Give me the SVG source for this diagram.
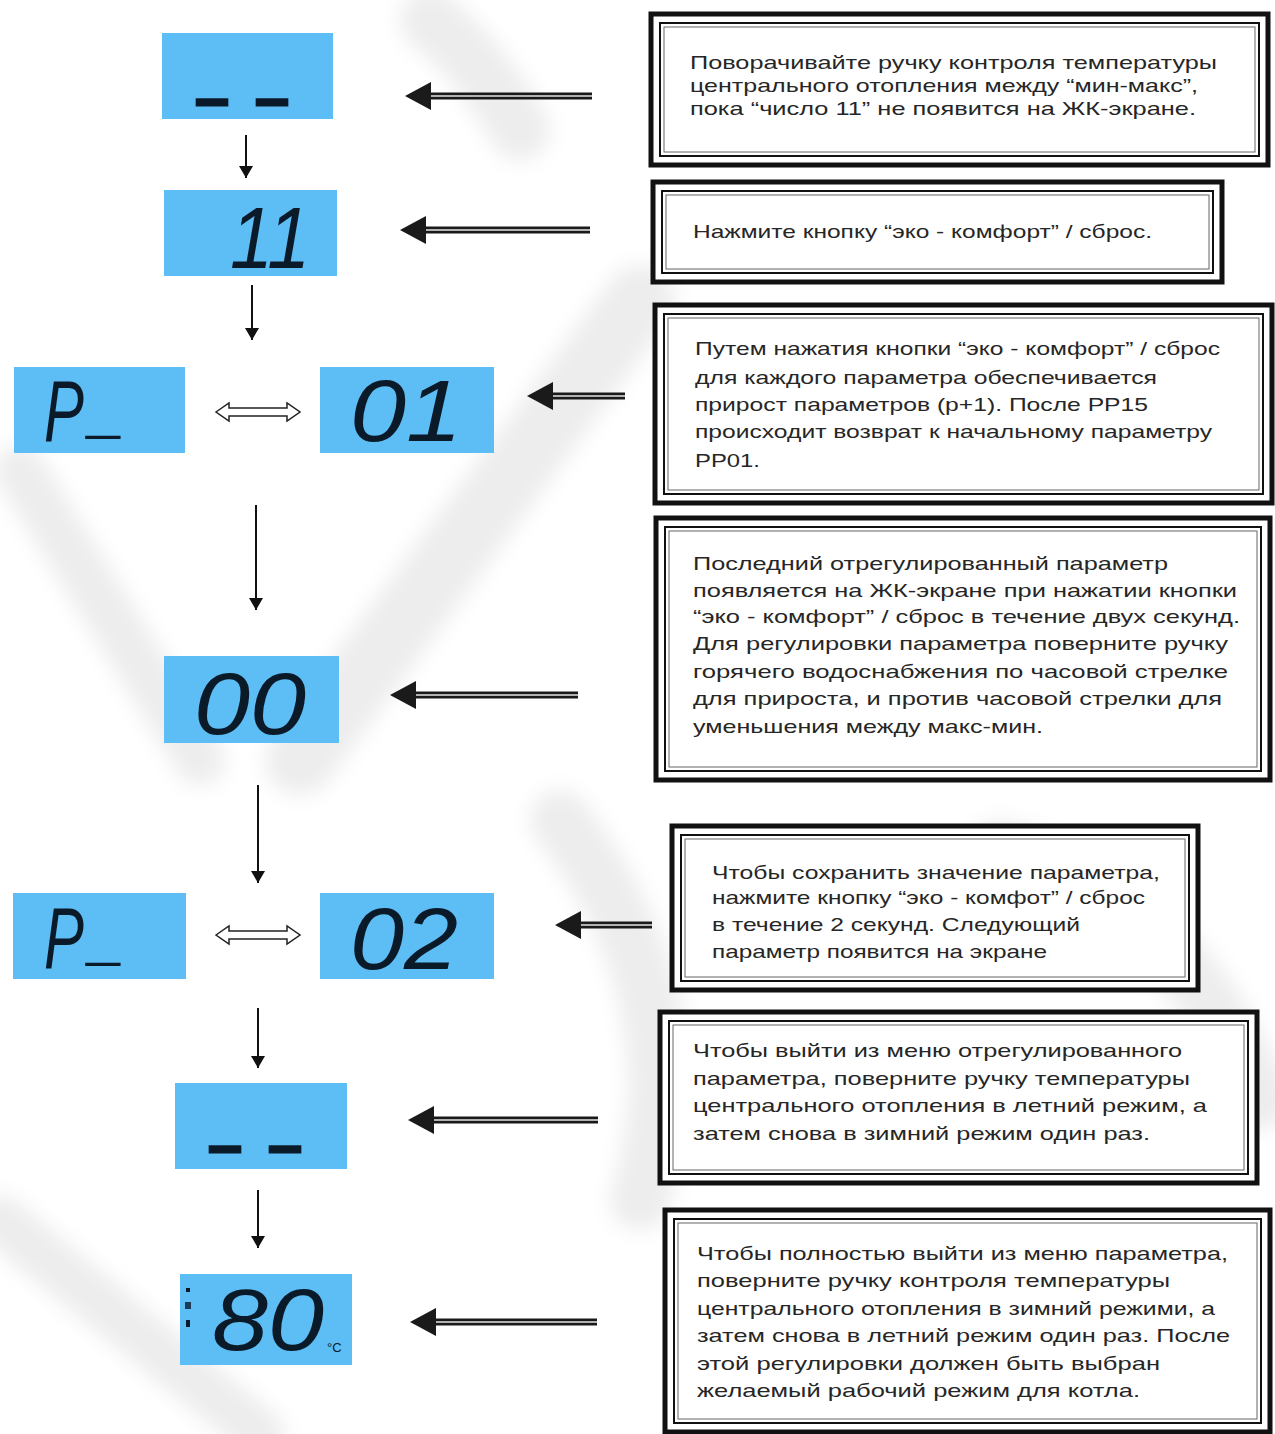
<svg xmlns="http://www.w3.org/2000/svg" width="1275" height="1434" viewBox="0 0 1275 1434">
<style>
.lcd{fill:#5DBDF5}
.seg{font-family:"Liberation Sans Narrow","Liberation Sans",Arial,sans-serif;font-style:italic;fill:#0b1a28;font-size:88px}
.dash{font-family:"DejaVu Sans Mono",monospace;font-weight:bold;fill:#0b1a28;stroke:#0b1a28;stroke-width:3;font-size:56px}
.txt{font-family:"Liberation Sans",Arial,sans-serif;font-size:19px;fill:#262626}
.fo{fill:#fff;stroke:#111;stroke-width:5}
.fm{fill:none;stroke:#111;stroke-width:2}
.fi{fill:none;stroke:#666;stroke-width:1}
.down{stroke:#111;stroke-width:2;fill:none}
.big{stroke:#1a1a1a;stroke-width:7;fill:none}
.mid{stroke:#e6e6e6;stroke-width:1.6;fill:none}
.dbl{fill:#fff;stroke:#222;stroke-width:1.5}
.wm{fill:none;stroke:#000;stroke-opacity:0.07;stroke-linecap:round}
</style>
<defs>
<marker id="ah" markerUnits="userSpaceOnUse" markerWidth="12" markerHeight="14" refX="12" refY="7" orient="auto"><path d="M0,0 L12,7 L0,14 z" fill="#111"/></marker>
<marker id="bh" markerUnits="userSpaceOnUse" markerWidth="26" markerHeight="28" refX="6" refY="14" orient="auto"><path d="M0,0 L26,14 L0,28 z" fill="#1a1a1a"/></marker>
<filter id="soft" x="-20%" y="-20%" width="140%" height="140%"><feGaussianBlur stdDeviation="10"/></filter>
</defs>
<rect width="1275" height="1434" fill="#fff"/>

<!-- faint background watermark -->
<g filter="url(#soft)">
<path class="wm" stroke-width="60" d="M430,20 Q480,60 520,130"/>
<path class="wm" stroke-width="70" d="M640,300 L300,760"/>
<path class="wm" stroke-width="50" d="M20,470 L200,760"/>
<path class="wm" stroke-width="60" d="M560,820 Q700,1000 640,1200"/>
<path class="wm" stroke-width="60" d="M1000,850 Q1180,900 1260,1100"/>
<path class="wm" stroke-width="50" d="M0,1220 L260,1434"/>
</g>

<!-- LCD nodes -->
<g id="lcd1"><rect class="lcd" x="162" y="33" width="171" height="86"/><text class="dash" x="197" y="92" textLength="90" lengthAdjust="spacingAndGlyphs">_ _</text></g>
<g id="lcd2"><rect class="lcd" x="164" y="190" width="173" height="86"/><text class="seg" x="230" y="268" textLength="80" lengthAdjust="spacingAndGlyphs">11</text></g>
<g id="lcd3"><rect class="lcd" x="14" y="367" width="171" height="86"/><text class="seg" transform="translate(44,441) scale(0.68,1)">P</text><text class="seg" font-size="60" transform="translate(90,428) scale(0.7,1)">_</text></g>
<g id="lcd4"><rect class="lcd" x="320" y="367" width="174" height="86"/><text class="seg" x="350" y="441" textLength="112" lengthAdjust="spacingAndGlyphs">01</text></g>
<g id="lcd5"><rect class="lcd" x="164" y="656" width="175" height="87"/><text class="seg" x="194" y="734" textLength="112" lengthAdjust="spacingAndGlyphs">00</text></g>
<g id="lcd6"><rect class="lcd" x="13" y="893" width="173" height="86"/><text class="seg" transform="translate(44,968) scale(0.68,1)">P</text><text class="seg" font-size="60" transform="translate(90,955) scale(0.7,1)">_</text></g>
<g id="lcd7"><rect class="lcd" x="320" y="893" width="174" height="86"/><text class="seg" x="350" y="969" textLength="108" lengthAdjust="spacingAndGlyphs">02</text></g>
<g id="lcd8"><rect class="lcd" x="175" y="1083" width="172" height="86"/><text class="dash" x="210" y="1139" textLength="90" lengthAdjust="spacingAndGlyphs">_ _</text></g>
<g id="lcd9"><rect class="lcd" x="180" y="1274" width="172" height="91"/>
<rect x="186" y="1288" width="4" height="4" fill="#0b1a28"/><rect x="185" y="1302" width="6" height="7" fill="#1b3a55"/><rect x="186" y="1320" width="4" height="7" fill="#0b1a28"/>
<text class="seg" x="212" y="1350" font-size="92" textLength="112" lengthAdjust="spacingAndGlyphs">80</text>
<text x="327" y="1352" font-family="Liberation Sans, Arial, sans-serif" font-size="13" fill="#0b1a28">°C</text></g>

<!-- Text boxes -->
<g id="box1"><rect class="fo" x="651" y="14" width="617" height="151"/><rect class="fm" x="660" y="23" width="599" height="133"/><rect class="fi" x="664" y="27" width="591" height="125"/>
<text class="txt" x="690" y="69" textLength="527" lengthAdjust="spacingAndGlyphs">Поворачивайте ручку контроля температуры</text>
<text class="txt" x="690" y="92" textLength="508" lengthAdjust="spacingAndGlyphs">центрального отопления между “мин-макс”,</text>
<text class="txt" x="690" y="115" textLength="506" lengthAdjust="spacingAndGlyphs">пока “число 11” не появится на ЖК-экране.</text></g>

<g id="box2"><rect class="fo" x="653" y="182" width="569" height="100"/><rect class="fm" x="662" y="191" width="551" height="82"/><rect class="fi" x="666" y="195" width="543" height="74"/>
<text class="txt" x="693" y="238" textLength="459" lengthAdjust="spacingAndGlyphs">Нажмите кнопку “эко - комфорт” / сброс.</text></g>

<g id="box3"><rect class="fo" x="655" y="305" width="617" height="198"/><rect class="fm" x="664" y="314" width="599" height="180"/><rect class="fi" x="668" y="318" width="591" height="172"/>
<text class="txt" x="695" y="355" font-size="20" textLength="525" lengthAdjust="spacingAndGlyphs">Путем нажатия кнопки “эко - комфорт” / сброс</text>
<text class="txt" x="695" y="384" font-size="20" textLength="462" lengthAdjust="spacingAndGlyphs">для каждого параметра обеспечивается</text>
<text class="txt" x="695" y="411" font-size="20" textLength="453" lengthAdjust="spacingAndGlyphs">прирост параметров (p+1). После PP15</text>
<text class="txt" x="695" y="438" font-size="20" textLength="517" lengthAdjust="spacingAndGlyphs">происходит возврат к начальному параметру</text>
<text class="txt" x="695" y="467" font-size="20" textLength="65" lengthAdjust="spacingAndGlyphs">PP01.</text></g>

<g id="box4"><rect class="fo" x="656" y="518" width="614" height="262"/><rect class="fm" x="665" y="527" width="596" height="244"/><rect class="fi" x="669" y="531" width="588" height="236"/>
<text class="txt" x="693" y="570" font-size="20" textLength="475" lengthAdjust="spacingAndGlyphs">Последний отрегулированный параметр</text>
<text class="txt" x="693" y="597" font-size="20" textLength="544" lengthAdjust="spacingAndGlyphs">появляется на ЖК-экране при нажатии кнопки</text>
<text class="txt" x="693" y="623" font-size="20" textLength="547" lengthAdjust="spacingAndGlyphs">“эко - комфорт” / сброс в течение двух секунд.</text>
<text class="txt" x="693" y="650" font-size="20" textLength="535" lengthAdjust="spacingAndGlyphs">Для регулировки параметра поверните ручку</text>
<text class="txt" x="693" y="678" font-size="20" textLength="535" lengthAdjust="spacingAndGlyphs">горячего водоснабжения по часовой стрелке</text>
<text class="txt" x="693" y="705" font-size="20" textLength="529" lengthAdjust="spacingAndGlyphs">для прироста, и против часовой стрелки для</text>
<text class="txt" x="693" y="733" font-size="20" textLength="350" lengthAdjust="spacingAndGlyphs">уменьшения между макс-мин.</text></g>

<g id="box5"><rect class="fo" x="672" y="826" width="526" height="164"/><rect class="fm" x="681" y="835" width="508" height="146"/><rect class="fi" x="685" y="839" width="500" height="138"/>
<text class="txt" x="712" y="879" font-size="20" textLength="448" lengthAdjust="spacingAndGlyphs">Чтобы сохранить значение параметра,</text>
<text class="txt" x="712" y="904" font-size="20" textLength="433" lengthAdjust="spacingAndGlyphs">нажмите кнопку “эко - комфот” / сброс</text>
<text class="txt" x="712" y="931" font-size="20" textLength="368" lengthAdjust="spacingAndGlyphs">в течение 2 секунд. Следующий</text>
<text class="txt" x="712" y="958" font-size="20" textLength="335" lengthAdjust="spacingAndGlyphs">параметр появится на экране</text></g>

<g id="box6"><rect class="fo" x="660" y="1012" width="597" height="171"/><rect class="fm" x="669" y="1021" width="579" height="153"/><rect class="fi" x="673" y="1025" width="571" height="145"/>
<text class="txt" x="693" y="1057" font-size="20" textLength="489" lengthAdjust="spacingAndGlyphs">Чтобы выйти из меню отрегулированного</text>
<text class="txt" x="693" y="1085" font-size="20" textLength="497" lengthAdjust="spacingAndGlyphs">параметра, поверните ручку температуры</text>
<text class="txt" x="693" y="1112" font-size="20" textLength="514" lengthAdjust="spacingAndGlyphs">центрального отопления в летний режим, а</text>
<text class="txt" x="693" y="1140" font-size="20" textLength="457" lengthAdjust="spacingAndGlyphs">затем снова в зимний режим один раз.</text></g>

<g id="box7"><rect class="fo" x="665" y="1210" width="605" height="222"/><rect class="fm" x="674" y="1219" width="587" height="204"/><rect class="fi" x="678" y="1223" width="579" height="196"/>
<text class="txt" x="697" y="1260" font-size="20" textLength="531" lengthAdjust="spacingAndGlyphs">Чтобы полностью выйти из меню параметра,</text>
<text class="txt" x="697" y="1287" font-size="20" textLength="473" lengthAdjust="spacingAndGlyphs">поверните ручку контроля температуры</text>
<text class="txt" x="697" y="1315" font-size="20" textLength="518" lengthAdjust="spacingAndGlyphs">центрального отопления в зимний режими, а</text>
<text class="txt" x="697" y="1342" font-size="20" textLength="533" lengthAdjust="spacingAndGlyphs">затем снова в летний режим один раз. После</text>
<text class="txt" x="697" y="1370" font-size="20" textLength="463" lengthAdjust="spacingAndGlyphs">этой регулировки должен быть выбран</text>
<text class="txt" x="697" y="1397" font-size="20" textLength="443" lengthAdjust="spacingAndGlyphs">желаемый рабочий режим для котла.</text></g>

<!-- Connectors -->
<g id="connectors">
<path class="down" d="M246,135 V178" marker-end="url(#ah)"/>
<path class="down" d="M252,285 V340" marker-end="url(#ah)"/>
<path class="down" d="M256,505 V610" marker-end="url(#ah)"/>
<path class="down" d="M258,785 V883" marker-end="url(#ah)"/>
<path class="down" d="M258,1008 V1068" marker-end="url(#ah)"/>
<path class="down" d="M258,1190 V1248" marker-end="url(#ah)"/>

<polygon class="dbl" points="216,412 229,403 229,408 287,408 287,403 300,412 287,421 287,416 229,416 229,421"/>
<polygon class="dbl" points="216,935 229,926 229,931 287,931 287,926 300,935 287,944 287,939 229,939 229,944"/>

<path class="big" d="M592,96 H425" marker-end="url(#bh)"/><path class="mid" d="M592,96 H431"/>
<path class="big" d="M590,230 H420" marker-end="url(#bh)"/><path class="mid" d="M590,230 H426"/>
<path class="big" d="M625,396 H547" marker-end="url(#bh)"/><path class="mid" d="M625,396 H553"/>
<path class="big" d="M578,695 H410" marker-end="url(#bh)"/><path class="mid" d="M578,695 H416"/>
<path class="big" d="M652,925 H575" marker-end="url(#bh)"/><path class="mid" d="M652,925 H581"/>
<path class="big" d="M598,1120 H428" marker-end="url(#bh)"/><path class="mid" d="M598,1120 H434"/>
<path class="big" d="M597,1322 H430" marker-end="url(#bh)"/><path class="mid" d="M597,1322 H436"/>
</g>
</svg>
